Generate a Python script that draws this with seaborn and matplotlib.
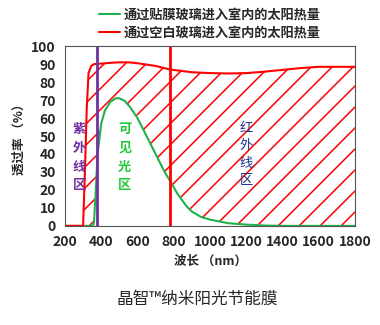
import numpy as np
import pandas as pd
import matplotlib
matplotlib.use("Agg")
import matplotlib.pyplot as plt
import seaborn as sns

DPI = 126
S = 100.0 / DPI  # keep sizes as at 100 dpi; larger dpi widens hatch spacing

sns.set_theme(style="white")
plt.rcParams['font.family'] = ['Noto Sans CJK SC', 'DejaVu Sans']
plt.rcParams['hatch.color'] = 'red'
plt.rcParams['hatch.linewidth'] = 1.1 * S

wl_red = [200, 300, 310, 320, 330, 345, 360, 400, 450, 500, 550, 600, 700, 780, 900, 1000, 1100, 1200, 1300, 1400, 1500, 1600, 1700, 1800]
t_red = [0, 0, 30, 65, 85, 89, 90, 90.3, 90.7, 91, 91, 90.5, 89, 87, 85.5, 85, 84.8, 85, 85.8, 86.8, 87.8, 88.5, 88.5, 88.5]

wl_green = [200, 355, 360, 370, 380, 400, 420, 450, 480, 500, 530, 560, 600, 650, 700, 750, 780, 820, 870, 900, 950, 1000, 1100, 1200, 1300, 1400, 1800]
t_green = [0, 0, 2, 20, 40, 57, 64, 69, 71, 71, 69.5, 66, 60, 50, 40, 30, 25, 18, 11, 8, 5, 3.5, 1.5, 0.7, 0.2, 0, 0]

uv_line = 376
vis_line = 780

legend_labels = ["通过贴膜玻璃进入室内的太阳热量", "通过空白玻璃进入室内的太阳热量"]

fig = plt.figure(figsize=(380 / DPI, 325 / DPI), dpi=DPI)
ax = fig.add_axes([0.171, 0.305, 0.763, 0.553])

grid = np.linspace(200, 1800, 1601)
r = np.interp(grid, wl_red, t_red)
g = np.interp(grid, wl_green, t_green)
ax.fill_between(grid, g, r, facecolor='none', hatch='//', edgecolor='red', linewidth=0)

df_g = pd.DataFrame({"wl": wl_green, "t": t_green})
df_r = pd.DataFrame({"wl": wl_red, "t": t_red})
sns.lineplot(data=df_g, x="wl", y="t", ax=ax, color="#22b14c", lw=1.5 * S, label=legend_labels[0])
sns.lineplot(data=df_r, x="wl", y="t", ax=ax, color="red", lw=1.5 * S, label=legend_labels[1])

ax.axvline(uv_line, color="#7030a0", lw=2 * S)
ax.axvline(vis_line, color="red", lw=2 * S)

ax.set_xlim(200, 1800)
ax.set_ylim(0, 100)
ax.set_xticks(range(200, 1801, 200))
ax.set_yticks(range(0, 101, 10))
ax.tick_params(axis='both', labelsize=10 * S, length=3 * S, width=0.8 * S,
               pad=3.5 * S, direction='out', color='#555555')
for lab in ax.get_xticklabels() + ax.get_yticklabels():
    lab.set_fontweight('bold')
for s in ax.spines.values():
    s.set_color('#555555')
    s.set_linewidth(0.8 * S)

ax.set_xlabel("波长 （nm）", fontsize=9 * S, fontweight='bold', labelpad=4 * S)
ax.set_ylabel("透过率 （%）", fontsize=9 * S, fontweight='bold', labelpad=4 * S)

ax.text(280, 58, "紫\n外\n线\n区", color="#7030a0", fontsize=9.5 * S, fontweight='bold', ha='center', va='top', linespacing=1.45)
ax.text(530, 58, "可\n见\n光\n区", color="#22c83c", fontsize=9.5 * S, fontweight='bold', ha='center', va='top', linespacing=1.45)
ax.text(1200, 58, "红\n外\n线\n区", color="#1f2f8f", fontsize=9.5 * S, ha='center', va='top', linespacing=1.45)

leg = ax.legend(loc='lower center', bbox_to_anchor=(0.5, 1.0), frameon=False, fontsize=9.5 * S,
                handlelength=1.6, handletextpad=0.3, labelspacing=0.3, borderaxespad=0.1)
for t in leg.get_texts():
    t.set_fontweight('bold')

fig.text(0.52, 0.08, "晶智™纳米阳光节能膜", ha='center', va='center', fontsize=12 * S)

fig.savefig("out.png", dpi=DPI)
